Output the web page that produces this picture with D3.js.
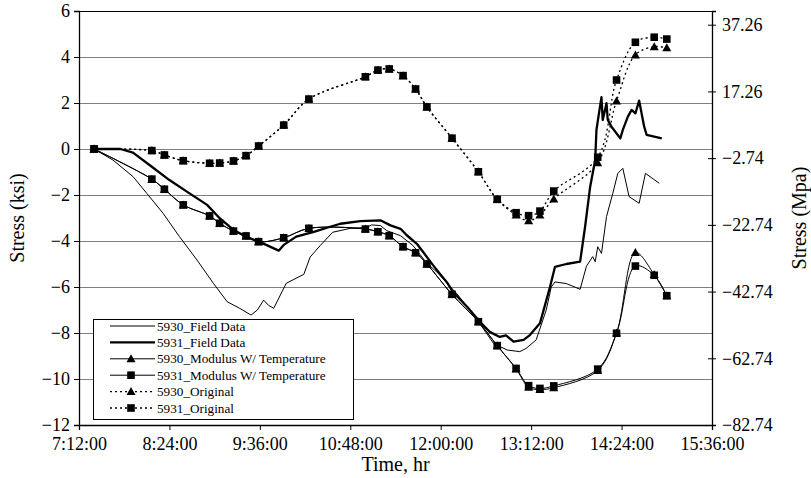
<!DOCTYPE html>
<html>
<head>
<meta charset="utf-8">
<script src="https://cdn.jsdelivr.net/npm/d3@7"></script>
</head>
<body style="margin:0">
<svg id="chart" width="811" height="478"></svg>
<script>
// field data, 5930 (thin line)
const field5930Times = ['7:24','7:39','7:55','8:06','8:19','8:32','8:46','8:59','9:10','9:20','9:29','9:34','9:39','9:43','9:47','9:57','10:11','10:16','10:24','10:34','10:48','11:01','11:05','11:12','11:17','11:28','11:38','11:49','11:57','12:05','12:13','12:21','12:33','12:42','12:53','13:03','13:08','13:16','13:24','13:28','13:31','13:40','13:51','13:56','14:01','14:03','14:05','14:08','14:12','14:17','14:21','14:25','14:30','14:38','14:43','14:54'];
const field5930Values = [0,-0.48,-1.2,-1.93,-2.8,-3.81,-4.83,-5.84,-6.64,-6.93,-7.22,-7.0,-6.57,-6.8,-6.93,-5.84,-5.45,-4.7,-4.2,-3.62,-3.45,-3.41,-3.3,-3.33,-3.55,-3.77,-4.2,-4.97,-5.35,-5.84,-6.3,-6.86,-7.74,-8.45,-8.74,-8.81,-8.67,-8.3,-7.0,-6.0,-5.78,-5.85,-6.1,-5.1,-4.68,-4.9,-4.25,-4.54,-2.94,-1.93,-1.06,-0.84,-2.07,-2.36,-1.06,-1.49];

// field data, 5931 (thick line)
const field5931Times = ['7:24','7:45','7:55','8:10','8:24','8:40','8:54','9:04','9:15','9:25','9:35','9:41','9:51','9:55','10:05','10:19','10:32','10:40','10:56','11:12','11:20','11:28','11:33','11:41','11:46','11:54','12:05','12:10','12:21','12:31','12:39','12:47','12:52','12:58','13:06','13:11','13:19','13:27','13:31','13:40','13:51','13:55','13:59','14:03','14:04','14:06','14:08','14:09','14:12','14:13','14:16','14:23','14:25','14:29','14:32','14:35','14:38','14:42','14:44','14:56'];
const field5931Values = [0,0,-0.16,-0.77,-1.35,-1.93,-2.43,-3.01,-3.52,-3.81,-4.03,-4.17,-4.42,-4.17,-3.81,-3.6,-3.38,-3.25,-3.14,-3.1,-3.32,-3.47,-3.75,-4.12,-4.48,-5.06,-5.8,-6.23,-6.86,-7.5,-7.95,-8.17,-8.1,-8.38,-8.3,-8.09,-7.58,-6.0,-5.12,-5.0,-4.9,-3.36,-1.64,-0.48,0.83,1.55,2.25,1.26,1.99,1.26,0.97,0.46,0.83,1.41,1.7,1.55,2.1,0.97,0.61,0.46];

// model points share the same times
const modelTimes = ['7:24','8:10','8:20','8:35','8:56','9:04','9:15','9:25','9:35','9:55','10:15','11:00','11:10','11:19','11:30','11:40','11:49','12:09','12:30','12:45','13:00','13:10','13:19','13:30','14:05','14:20','14:35','14:50','15:00'];
const mod5930Values = [0,-1.31,-1.75,-2.43,-2.91,-3.23,-3.57,-3.78,-4.03,-3.86,-3.45,-3.48,-3.6,-3.77,-4.25,-4.51,-5.0,-6.32,-7.51,-8.55,-9.56,-10.36,-10.46,-10.38,-9.63,-8.0,-4.5,-5.46,-6.38];
const mod5931Values = [0,-1.31,-1.75,-2.43,-2.91,-3.23,-3.57,-3.78,-4.03,-3.86,-3.45,-3.48,-3.6,-3.77,-4.25,-4.51,-5.0,-6.32,-7.51,-8.55,-9.54,-10.29,-10.41,-10.3,-9.57,-8.01,-5.09,-5.49,-6.38];
const orig5930Values = [0,-0.07,-0.26,-0.51,-0.62,-0.61,-0.52,-0.29,0.13,1.04,2.17,3.14,3.43,3.48,3.19,2.61,1.83,0.47,-0.99,-2.19,-2.87,-3.12,-2.87,-2.17,-0.6,2.09,4.09,4.45,4.4];
const orig5931Values = [0,-0.07,-0.26,-0.51,-0.62,-0.61,-0.52,-0.29,0.13,1.04,2.17,3.14,3.43,3.48,3.19,2.61,1.83,0.47,-0.99,-2.19,-2.77,-2.9,-2.7,-1.83,-0.36,3.0,4.64,4.86,4.78];

const xTicks = ['7:12','8:24','9:36','10:48','12:00','13:12','14:24','15:36'];
const yTicks = [-12,-10,-8,-6,-4,-2,0,2,4,6];
const mpaTicks = [-82.74,-62.74,-42.74,-22.74,-2.74,17.26,37.26];

const parse = d3.timeParse('%H:%M');
const svg = d3.select('#chart');

const setFont = (sel, size) => sel
  .attr('font-family', 'Liberation Serif')
  .attr('font-size', size);

const margin = { top: 11, right: 99, bottom: 53, left: 79 };
const width = 811 - margin.left - margin.right;
const height = 478 - margin.top - margin.bottom;

const x = d3.scaleTime()
  .domain([parse('7:12'), parse('15:36')])
  .range([margin.left, margin.left + width]);
const y = d3.scaleLinear().domain([-12, 6]).range([margin.top + height, margin.top]);
// 1 ksi = 6.895 MPa
const yR = d3.scaleLinear().domain([-12 * 6.895, 6 * 6.895]).range([margin.top + height, margin.top]);

// grid
svg.append('g')
  .selectAll('line')
  .data(yTicks)
  .enter()
  .append('line')
  .attr('x1', margin.left)
  .attr('x2', margin.left + width)
  .attr('y1', d => Math.round(y(d)) + 0.5)
  .attr('y2', d => Math.round(y(d)) + 0.5)
  .attr('stroke', d => d === 6 ? '#000' : '#808080')
  .attr('stroke-width', 1);

const fmtMinus = s => String(s).replace('-', '\u2212');

// axes
const gx = svg.append('g')
  .attr('transform', 'translate(0,' + (margin.top + height) + ')')
  .call(d3.axisBottom(x)
    .tickValues(xTicks.map(parse))
    .tickFormat(d3.timeFormat('%-H:%M:00'))
    .tickSize(5)
    .tickPadding(7));

const gy = svg.append('g')
  .attr('transform', 'translate(' + margin.left + ',0)')
  .call(d3.axisLeft(y).tickValues(yTicks).tickFormat(fmtMinus).tickSize(5).tickPadding(4));

const gr = svg.append('g')
  .attr('transform', 'translate(' + (margin.left + width) + ',0)')
  .call(d3.axisRight(yR).tickValues(mpaTicks).tickFormat(d => fmtMinus(d.toFixed(2))).tickSize(4).tickPadding(6));
gr.selectAll('.tick line').attr('x1', -4);

[gx, gy, gr].forEach(g => {
  g.attr('font-family', 'Liberation Serif').attr('font-size', 18);
  g.select('.domain').attr('stroke', '#000').attr('stroke-width', 1.3);
  g.selectAll('.tick line').attr('stroke', '#000');
  setFont(g.selectAll('text').attr('fill', '#000'), 18);
});

// series
const series = [
  { name: '5930_Field Data', times: field5930Times, values: field5930Values, width: 1, dash: null, marker: null, smooth: false },
  { name: '5931_Field Data', times: field5931Times, values: field5931Values, width: 2.3, dash: null, marker: null, smooth: false },
  { name: '5930_Modulus W/ Temperature', times: modelTimes, values: mod5930Values, width: 1, dash: null, marker: 'tri', smooth: true },
  { name: '5931_Modulus W/ Temperature', times: modelTimes, values: mod5931Values, width: 1, dash: null, marker: 'sq', smooth: true },
  { name: '5930_Original', times: modelTimes, values: orig5930Values, width: 1.3, dash: '2,3', marker: 'tri', smooth: true },
  { name: '5931_Original', times: modelTimes, values: orig5931Values, width: 1.3, dash: '2,3', marker: 'sq', smooth: true }
];

const triPath = 'M0,-4.5L4.5,3.5L-4.5,3.5Z';
const sqPath = 'M-3.8,-3.8H3.8V3.8H-3.8Z';

function drawMarker(g, type, cx, cy) {
  g.append('path')
    .attr('d', type === 'tri' ? triPath : sqPath)
    .attr('transform', 'translate(' + cx + ',' + cy + ')')
    .attr('fill', '#000');
}

series.forEach(s => {
  const pts = s.times.map((t, i) => [x(parse(t)), y(s.values[i])]);
  const line = d3.line().curve(s.smooth ? d3.curveCatmullRom.alpha(0.5) : d3.curveLinear);
  svg.append('path')
    .attr('d', line(pts))
    .attr('fill', 'none')
    .attr('stroke', '#000')
    .attr('stroke-width', s.width)
    .attr('stroke-dasharray', s.dash)
    .attr('stroke-linejoin', 'round');
  if (s.marker) {
    const mg = svg.append('g');
    pts.forEach(p => drawMarker(mg, s.marker, p[0], p[1]));
  }
});

// legend
const legend = svg.append('g');
legend.append('rect')
  .attr('x', 93.5)
  .attr('y', 319.5)
  .attr('width', 260)
  .attr('height', 100)
  .attr('fill', '#fff')
  .attr('stroke', '#000')
  .attr('stroke-width', 1);

series.forEach((s, i) => {
  const ly = 326 + i * 16.4;
  const row = legend.append('g');
  row.append('line')
    .attr('x1', 110).attr('x2', 155)
    .attr('y1', ly).attr('y2', ly)
    .attr('stroke', '#000')
    .attr('stroke-width', s.width)
    .attr('stroke-dasharray', s.dash);
  if (s.marker) drawMarker(row, s.marker, 131, ly);
  setFont(row.append('text')
    .attr('x', 157)
    .attr('y', ly + 4.5), 13.2)
    .text(s.name);
});

// axis titles
setFont(svg.append('text')
  .attr('transform', 'translate(24,' + (margin.top + height / 2) + ') rotate(-90)')
  .attr('text-anchor', 'middle'), 20)
  .text('Stress (ksi)');

setFont(svg.append('text')
  .attr('transform', 'translate(806,' + (margin.top + height / 2) + ') rotate(-90)')
  .attr('text-anchor', 'middle'), 20)
  .text('Stress (Mpa)');

setFont(svg.append('text')
  .attr('x', margin.left + width / 2)
  .attr('y', 471)
  .attr('text-anchor', 'middle'), 20)
  .text('Time, hr');
</script>
</body>
</html>
